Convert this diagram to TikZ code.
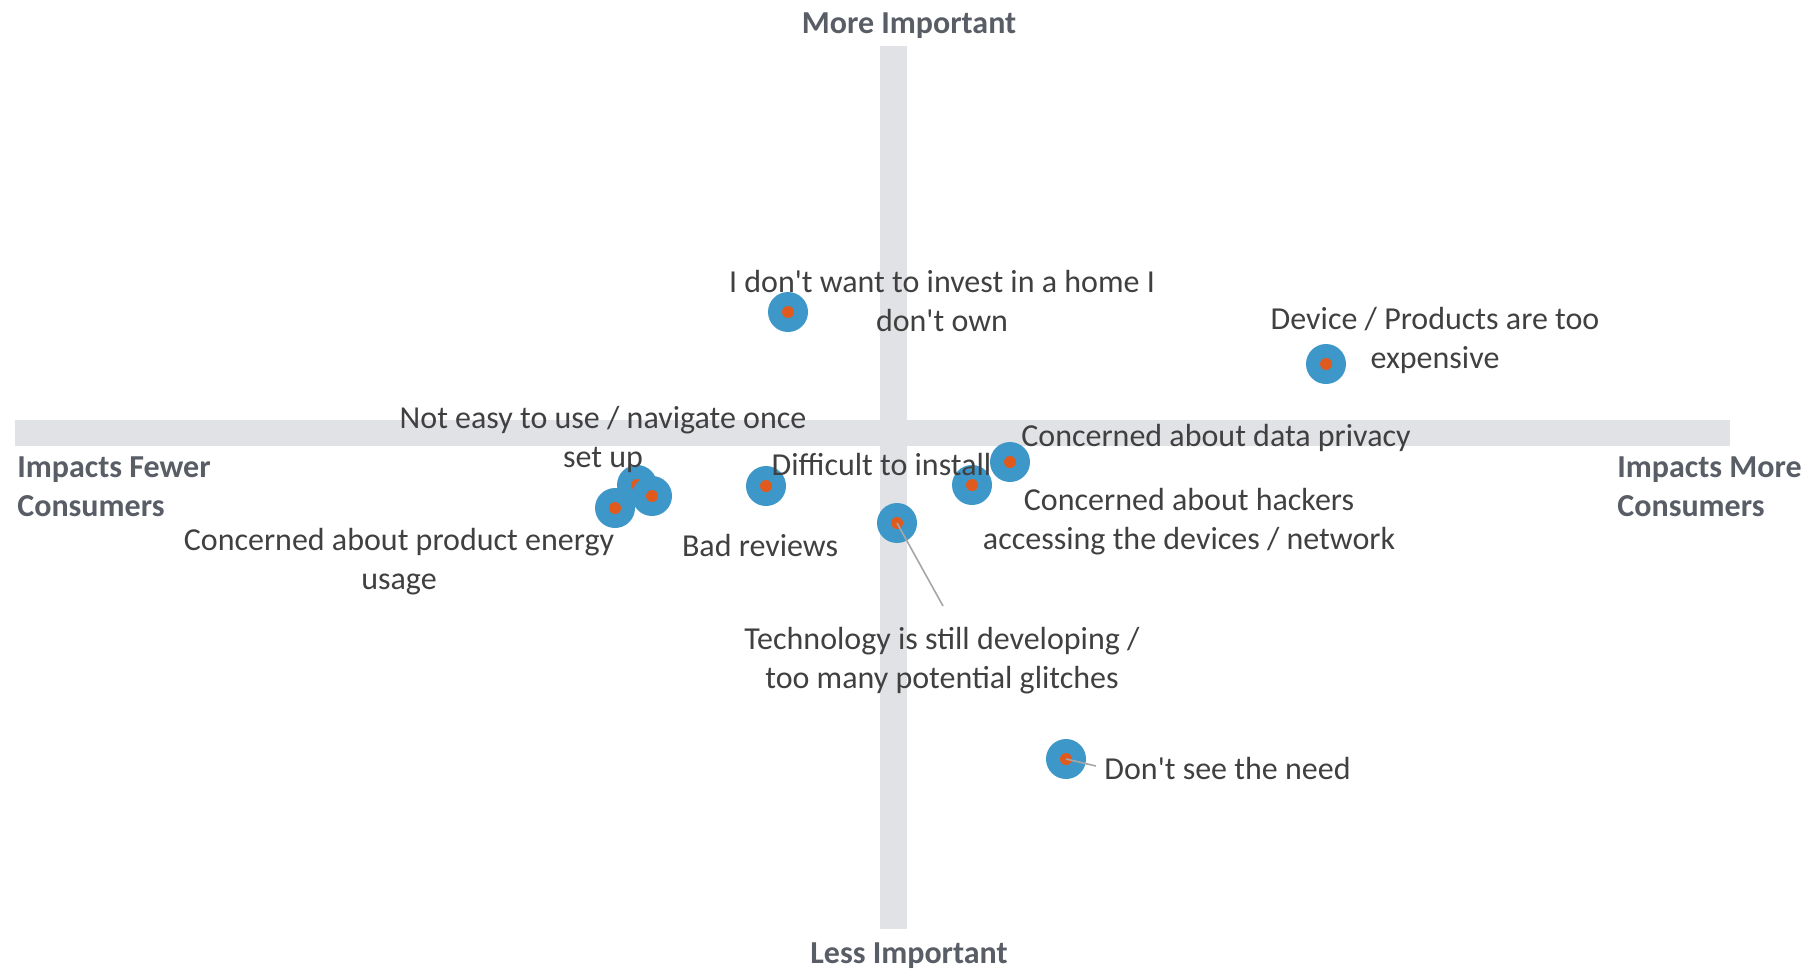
\documentclass[tikz,border=0pt]{standalone}
\usepackage{fontspec}
\setmainfont{Carlito}
\definecolor{barcol}{RGB}{225,226,229}
\definecolor{ptblue}{RGB}{62,151,201}
\definecolor{ptorange}{RGB}{224,90,30}
\definecolor{txtcol}{RGB}{64,64,64}
\definecolor{axcol}{RGB}{89,93,102}
\definecolor{leadcol}{RGB}{166,166,166}
\newcommand{\apos}{\textquotesingle}
\begin{document}
\begin{tikzpicture}[x=0.5pt,y=-0.5pt,
  bar/.style={fill=barcol},
  pt/.style={circle,fill=ptblue,minimum size=20pt,inner sep=0pt},
  dot/.style={circle,fill=ptorange,minimum size=6pt,inner sep=0pt},
  lbl/.style={text=txtcol,align=center,inner sep=0pt,font=\fontsize{16}{19.5}\selectfont},
  axlbl/.style={text=axcol,inner sep=0pt,font=\fontsize{16}{19.5}\selectfont\bfseries},
  leader/.style={draw=leadcol,line width=0.8pt}]
\useasboundingbox (0,0) rectangle (1814,971);
% axes bars
\fill[bar] (880,46) rectangle (907,929);
\fill[bar] (15,420) rectangle (1730,446);
% points
\foreach \n/\x/\y in {p1/788/312, p2/1326/364, p5/615/508, p3/637/485, p4/652/496, p6/766/486, p7/972/485, p8/1010/462, p9/897/523, p10/1066/759}{
  \node[pt] (\n) at (\x,\y) {};
  \node[dot] at (\n.center) {};
}
% leader lines
\coordinate (e9) at (943,606);
\coordinate (e10) at (1096,766);
\draw[leader] (p9.center) -- (e9);
\draw[leader] (p10.center) -- (e10);
% data labels
\node[lbl] (l1) at (942,301) {I don\apos t want to invest in a home I\\don\apos t own};
\node[lbl] (l2) at (1435,340) {Device / Products are too\\expensive};
\node[lbl] (l3) at (603,439.5) {Not easy to use / navigate once\\set up};
\node[lbl] (l4) at (881.5,464) {Difficult to install};
\node[lbl] (l5) at (1216,438) {Concerned about data privacy};
\node[lbl] (l6) at (1189,521.5) {Concerned about hackers\\accessing the devices / network};
\node[lbl] (l7) at (399,562) {Concerned about product energy\\usage};
\node[lbl] (l8) at (760,545) {Bad reviews};
\node[lbl] (l9) at (942,661) {Technology is still developing /\\too many potential glitches};
\node[lbl,anchor=west] (l10) at (1104,768) {Don\apos t see the need};
% axis labels
\node[axlbl] (top) at (909,25.5) {More Important};
\node[axlbl] (bot) at (909,956) {Less Important};
\node[axlbl,anchor=west,align=left] (lft) at (17,486.5) {Impacts Fewer\\Consumers};
\node[axlbl,anchor=west,align=left] (rgt) at (1617,486.5) {Impacts More\\Consumers};
\end{tikzpicture}
\end{document}
